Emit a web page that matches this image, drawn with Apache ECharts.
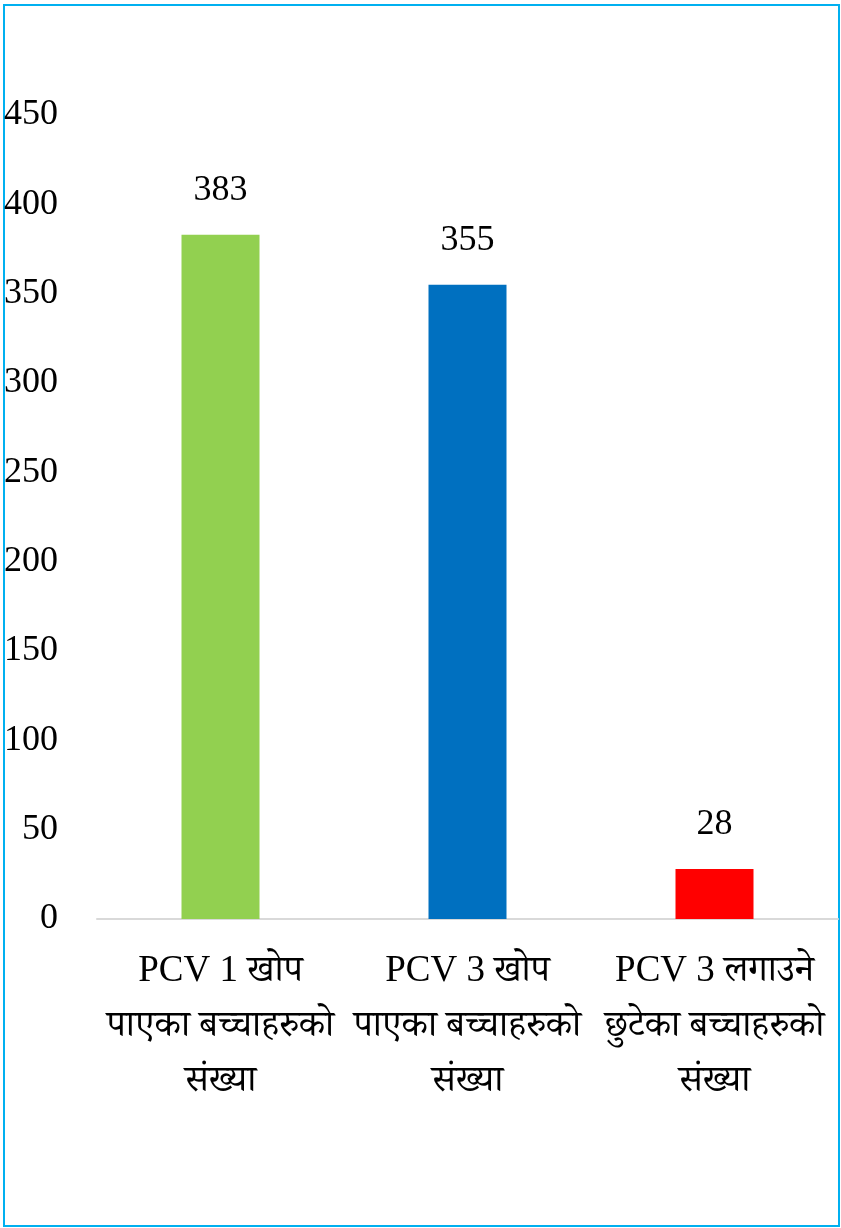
<!DOCTYPE html>
<html>
<head>
<meta charset="utf-8">
<style>
    html, body { margin: 0; padding: 0; background: #fff; }
    #chart { width: 841px; height: 1228px; }
</style>
<script src="https://cdn.jsdelivr.net/npm/echarts@6/dist/echarts.min.js"></script>
</head>
<body>
<div id="chart"></div>
<script>
    // श्रेणी र मानहरु
    const categories = [
        'PCV 1 खोप\nपाएका बच्चाहरुको\nसंख्या',
        'PCV 3 खोप\nपाएका बच्चाहरुको\nसंख्या',
        'PCV 3 लगाउने\nछुटेका बच्चाहरुको\nसंख्या'
    ];
    const values = [383, 355, 28];
    const barColors = ['#92D050', '#0070C0', '#FF0000'];
    const yTicks = {min: 0, max: 450, interval: 50};

    const font = '"Liberation Serif", "Times New Roman", "Noto Serif Devanagari", "Noto Sans Devanagari", serif';

    let chart = echarts.init(document.getElementById('chart'));
    let option = {
        animation: false,
        backgroundColor: '#fff',
        textStyle: {fontFamily: font},
        grid: {
            left: 97,
            right: 3,
            top: 115,
            bottom: 309,
            outerBoundsMode: 'none'
        },
        graphic: [{
            type: 'rect',
            shape: {x: 4, y: 5, width: 835, height: 1221},
            style: {fill: 'none', stroke: '#00B0F0', lineWidth: 2},
            silent: true
        }],
        xAxis: {
            type: 'category',
            data: categories,
            axisLine: {lineStyle: {color: '#D9D9D9', width: 2}},
            axisTick: {show: false},
            axisLabel: {
                color: '#000',
                fontSize: 37,
                lineHeight: 55,
                margin: 25,
                fontFamily: font,
                interval: 0
            }
        },
        yAxis: {
            type: 'value',
            min: yTicks.min,
            max: yTicks.max,
            interval: yTicks.interval,
            axisLine: {show: false},
            axisTick: {show: false},
            splitLine: {show: false},
            axisLabel: {
                color: '#000',
                fontSize: 36,
                margin: 39,
                padding: [0, 0, 8, 0],
                fontFamily: font
            }
        },
        series: [{
            type: 'bar',
            barWidth: 78,
            data: values.map((v, i) => ({value: v, itemStyle: {color: barColors[i]}})),
            label: {
                show: true,
                position: 'top',
                distance: 26,
                color: '#000',
                fontSize: 36,
                fontFamily: font
            }
        }]
    };
    chart.setOption(option);
</script>
</body>
</html>
